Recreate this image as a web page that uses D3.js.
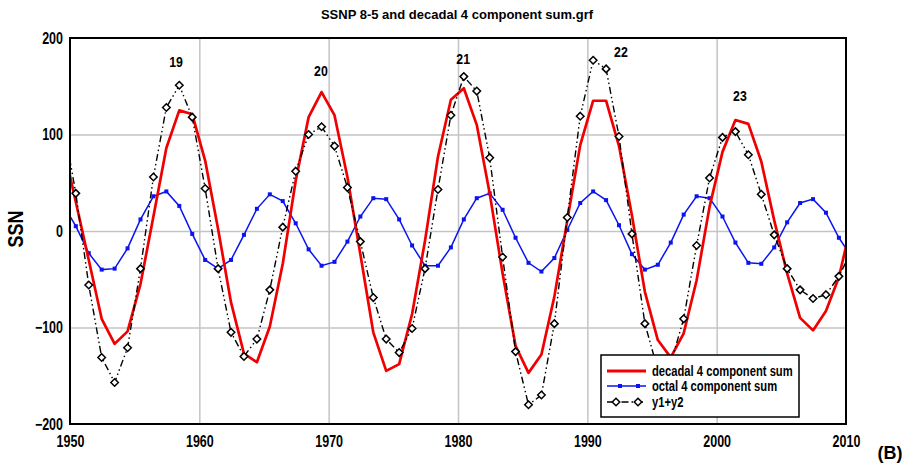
<!DOCTYPE html>
<html>
<head>
<meta charset="utf-8">
<script src="https://cdnjs.cloudflare.com/ajax/libs/d3/7.8.5/d3.min.js"></script>
<style>
  body { margin: 0; background: #fff; }
  svg { display: block; }
  .narrow { font-family: "Liberation Sans", Arial, sans-serif; font-weight: bold; }
  .grid line { stroke: #c4c4c4; stroke-width: 1.5; }
  .grid path { display: none; }
</style>
</head>
<body>
<script>
// yearly points, mid-year offset
var firstYear = 1949.45;

var decadal = [90, 30, -30, -91, -117, -104, -55, 15, 86, 125, 121, 73, 2, -74, -127, -136,
  -99, -34, 52, 118, 144, 120, 56, -24, -105, -145, -138, -86, -10, 77, 136, 148,
  110, 39, -44, -119, -147, -128, -68, 11, 89, 135, 135, 88, 16, -63, -113, -131,
  -106, -51, 25, 82, 115, 111, 72, 11, -44, -90, -103, -83, -48, 10];

var octal = [28, 5, -23, -40, -39, -18, 12, 36, 41, 26, -3, -30, -39, -30, -4, 23,
  38, 31, 8, -19, -36, -32, -11, 15, 34, 33, 12, -15, -36, -36, -17, 12,
  34, 39, 22, -7, -33, -42, -28, 1, 29, 41, 32, 6, -24, -40, -35, -12,
  17, 36, 34, 15, -12, -33, -34, -17, 9, 29, 33, 19, -7, -27];

var y1y2 = [114, 39, -56, -131, -157, -121, -39, 56, 128, 151, 118, 44, -39, -105, -130, -112,
  -61, 4, 62, 100, 108, 88, 45, -11, -69, -112, -126, -101, -39, 43, 120, 160,
  145, 76, -27, -125, -180, -170, -96, 14, 119, 177, 168, 98, -3, -96, -144, -137,
  -91, -15, 55, 97, 103, 79, 38, -4, -39, -61, -70, -66, -47, -20];

var cycleNames = ["19", "20", "21", "22", "23"];
var cycleYears = [1958.2, 1969.4, 1980.4, 1992.6, 2001.8];
var cycleSsn = [175, 166, 179, 186, 140];

var xTicks = [1950, 1960, 1970, 1980, 1990, 2000, 2010];
var yTicks = [-200, -100, 0, 100, 200];

var seriesNames = ["decadal 4 component sum", "octal 4 component sum", "y1+y2"];

var width = 909, height = 469;
var mLeft = 70, mRight = 846, mTop = 38, mBottom = 424;

var svg = d3.select("body").append("svg")
  .attr("width", width)
  .attr("height", height);

var x = d3.scaleLinear().domain([1950, 2010]).range([mLeft, mRight]);
var y = d3.scaleLinear().domain([-200, 200]).range([mBottom, mTop]);

function toPoints(values) {
  return values.map(function(v, i) { return { year: firstYear + i, ssn: v }; });
}

// squeeze bold text to look like the condensed font of the original
function squeeze(sel, k) {
  sel.each(function() {
    var len = this.getComputedTextLength();
    d3.select(this).attr("textLength", len * k).attr("lengthAdjust", "spacingAndGlyphs");
  });
}

svg.append("defs").append("clipPath")
  .attr("id", "plot")
  .append("rect")
  .attr("x", mLeft).attr("y", mTop)
  .attr("width", mRight - mLeft).attr("height", mBottom - mTop);

// grid
svg.append("g")
  .attr("class", "grid")
  .attr("transform", "translate(0," + mBottom + ")")
  .call(d3.axisBottom(x).tickValues(xTicks.slice(1, -1)).tickSize(-(mBottom - mTop)).tickFormat(""));

svg.append("g")
  .attr("class", "grid")
  .attr("transform", "translate(" + mLeft + ",0)")
  .call(d3.axisLeft(y).tickValues(yTicks.slice(1, -1)).tickSize(-(mRight - mLeft)).tickFormat(""));

// tick labels
var xAxis = svg.append("g")
  .attr("transform", "translate(0," + mBottom + ")")
  .call(d3.axisBottom(x).tickValues(xTicks).tickSize(0).tickPadding(12).tickFormat(d3.format("d")));
xAxis.select(".domain").remove();
xAxis.selectAll("text").attr("class", "narrow").style("font-size", "16px").attr("fill", "#000")
  .call(squeeze, 0.78);

var yAxis = svg.append("g")
  .attr("transform", "translate(" + (mLeft - 7) + ",0)")
  .call(d3.axisLeft(y).tickValues(yTicks).tickSize(0).tickPadding(0));
yAxis.select(".domain").remove();
yAxis.selectAll("text").attr("class", "narrow").style("font-size", "16px").attr("fill", "#000")
  .call(squeeze, 0.78);

var plot = svg.append("g").attr("clip-path", "url(#plot)");

var line = d3.line()
  .x(function(d) { return x(d.year); })
  .y(function(d) { return y(d.ssn); });

plot.append("path")
  .datum(toPoints(octal))
  .attr("fill", "none")
  .attr("stroke", "#0a14f0")
  .attr("stroke-width", 1.5)
  .attr("d", line);

plot.selectAll(".bdot")
  .data(toPoints(octal))
  .enter().append("rect")
  .attr("class", "bdot")
  .attr("x", function(d) { return x(d.year) - 2; })
  .attr("y", function(d) { return y(d.ssn) - 2; })
  .attr("width", 4).attr("height", 4)
  .attr("fill", "#0a14f0");

plot.append("path")
  .datum(toPoints(decadal))
  .attr("fill", "none")
  .attr("stroke", "#f00000")
  .attr("stroke-width", 2.7)
  .attr("stroke-linejoin", "round")
  .attr("d", line);

plot.append("path")
  .datum(toPoints(y1y2))
  .attr("fill", "none")
  .attr("stroke", "#000")
  .attr("stroke-width", 1.4)
  .attr("stroke-dasharray", "7,3,1.5,3,1.5,3")
  .attr("d", line);

var diamond = d3.symbol().type(d3.symbolDiamond2).size(36);

plot.selectAll(".dia")
  .data(toPoints(y1y2))
  .enter().append("path")
  .attr("class", "dia")
  .attr("d", diamond)
  .attr("transform", function(d) { return "translate(" + x(d.year) + "," + y(d.ssn) + ")"; })
  .attr("fill", "#fff")
  .attr("stroke", "#000")
  .attr("stroke-width", 1.5);

// cycle numbers
svg.selectAll(".cyc")
  .data(cycleNames)
  .enter().append("text")
  .attr("class", "narrow")
  .attr("x", function(d, i) { return x(cycleYears[i]); })
  .attr("y", function(d, i) { return y(cycleSsn[i]); })
  .attr("dy", "0.35em")
  .attr("text-anchor", "middle")
  .style("font-size", "15px")
  .text(function(d) { return d; })
  .call(squeeze, 0.82);

// frame
svg.append("rect")
  .attr("x", mLeft).attr("y", mTop)
  .attr("width", mRight - mLeft).attr("height", mBottom - mTop)
  .attr("fill", "none")
  .attr("stroke", "#000")
  .attr("stroke-width", 2);

// legend
var legend = svg.append("g").attr("transform", "translate(601,355)");
legend.append("rect")
  .attr("width", 198).attr("height", 62)
  .attr("fill", "#fff")
  .attr("stroke", "#000")
  .attr("stroke-width", 1.5);

var rows = [16, 31, 47];
legend.append("line").attr("x1", 6).attr("x2", 45).attr("y1", rows[0]).attr("y2", rows[0])
  .attr("stroke", "#f00000").attr("stroke-width", 3);
legend.append("line").attr("x1", 6).attr("x2", 45).attr("y1", rows[1]).attr("y2", rows[1])
  .attr("stroke", "#0a14f0").attr("stroke-width", 1.5);
[19, 37].forEach(function(px) {
  legend.append("rect").attr("x", px - 2).attr("y", rows[1] - 2).attr("width", 4).attr("height", 4)
    .attr("fill", "#0a14f0");
});
legend.append("line").attr("x1", 6).attr("x2", 45).attr("y1", rows[2]).attr("y2", rows[2])
  .attr("stroke", "#000").attr("stroke-width", 1.4).attr("stroke-dasharray", "7,3,1.5,3");
[15, 37].forEach(function(px) {
  legend.append("path").attr("d", diamond)
    .attr("transform", "translate(" + px + "," + rows[2] + ")")
    .attr("fill", "#fff").attr("stroke", "#000").attr("stroke-width", 1.5);
});

legend.selectAll(".lt")
  .data(seriesNames)
  .enter().append("text")
  .attr("class", "narrow")
  .attr("x", 51)
  .attr("y", function(d, i) { return rows[i]; })
  .attr("dy", "0.35em")
  .style("font-size", "14px")
  .text(function(d) { return d; })
  .call(squeeze, 0.8);

// titles
svg.append("text")
  .attr("x", 457).attr("y", 19)
  .attr("text-anchor", "middle")
  .style("font-family", "'Liberation Sans', Arial, sans-serif")
  .style("font-weight", "bold")
  .style("font-size", "13px")
  .text("SSNP 8-5 and decadal 4 component sum.grf");

svg.append("text")
  .attr("class", "narrow")
  .attr("transform", "translate(23,229) rotate(-90)")
  .attr("text-anchor", "middle")
  .style("font-size", "22px")
  .text("SSN")
  .call(squeeze, 0.82);

svg.append("text")
  .attr("x", 890).attr("y", 459)
  .attr("text-anchor", "middle")
  .style("font-family", "'Liberation Sans', Arial, sans-serif")
  .style("font-weight", "bold")
  .style("font-size", "18px")
  .text("(B)");
</script>
</body>
</html>
